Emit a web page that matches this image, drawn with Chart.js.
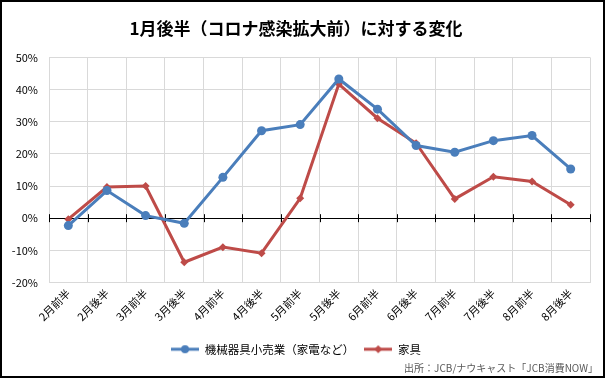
<!DOCTYPE html>
<html lang="ja">
<head>
<meta charset="utf-8">
<script src="https://cdn.jsdelivr.net/npm/chart.js@4"></script>
<style>
  html, body { margin: 0; padding: 0; background: #fff; }
  #wrap { width: 605px; height: 378px; box-sizing: border-box; border: 2px solid #000; }
</style>
</head>
<body>
<div id="wrap"><canvas id="chart"></canvas></div>
<script>
// Categories (half-months) and series values in %
const labels = ["2月前半", "2月後半", "3月前半", "3月後半", "4月前半", "4月後半", "5月前半",
  "5月後半", "6月前半", "6月後半", "7月前半", "7月後半", "8月前半", "8月後半"];
const appliances = [-2.3, 8.6, 0.8, -1.6, 12.7, 27.2, 29.1, 43.3, 33.9, 22.6, 20.5, 24.1, 25.7, 15.3];
const furniture = [-0.3, 9.7, 10.0, -13.7, -9.0, -10.9, 6.2, 41.7, 31.1, 23.3, 6.0, 12.9, 11.4, 4.2];
const yTicks = [-20, -10, 0, 10, 20, 30, 40, 50];
const source = "出所：JCB/ナウキャスト「JCB消費NOW」";

const BLUE = "#4A7EBB";
const RED = "#BE4B48";
const FONT = "'Noto Sans CJK JP', 'Noto Sans', sans-serif";

// legend icon: short line with the marker in the middle
function legendIcon(color, shape) {
  const c = document.createElement("canvas");
  c.width = 28; c.height = 10;
  const g = c.getContext("2d");
  g.strokeStyle = color; g.fillStyle = color; g.lineWidth = 3;
  g.beginPath(); g.moveTo(0, 5); g.lineTo(28, 5); g.stroke();
  g.beginPath();
  if (shape === "circle") g.arc(14, 5, 4, 0, Math.PI * 2);
  else { g.moveTo(14, 1); g.lineTo(18, 5); g.lineTo(14, 9); g.lineTo(10, 5); g.closePath(); }
  g.fill();
  return c;
}

// tick marks crossing the zero line at category boundaries
const zeroTicks = {
  id: "zeroTicks",
  beforeDatasetsDraw(chart) {
    const x = chart.scales.x, y = chart.scales.y;
    const y0 = y.getPixelForValue(0);
    const ctx = chart.ctx;
    ctx.save();
    ctx.strokeStyle = "#000";
    ctx.lineWidth = 1;
    for (let i = 0; i <= labels.length; i++) {
      const px = Math.round(x.getPixelForValue(i - 0.5)) + 0.5;
      ctx.beginPath(); ctx.moveTo(px, y0 - 4); ctx.lineTo(px, y0 + 4); ctx.stroke();
    }
    ctx.restore();
  }
};

// source note in the bottom-right corner
const sourceNote = {
  id: "sourceNote",
  afterDraw(chart) {
    const ctx = chart.ctx;
    ctx.save();
    ctx.font = "10px " + FONT;
    ctx.fillStyle = "#595959";
    ctx.textAlign = "right";
    ctx.textBaseline = "middle";
    ctx.fillText(source, chart.width - 5, chart.height - 8);
    ctx.restore();
  }
};

new Chart(document.getElementById("chart"), {
  type: "line",
  data: {
    labels: labels,
    datasets: [
      {
        label: "機械器具小売業（家電など）",
        data: appliances,
        borderColor: BLUE, backgroundColor: BLUE,
        borderWidth: 3, pointStyle: "circle", pointRadius: 4.5,
        pointBorderWidth: 0, tension: 0
      },
      {
        label: "家具",
        data: furniture,
        borderColor: RED, backgroundColor: RED,
        borderWidth: 3, pointStyle: "rectRot", pointRadius: 4,
        pointBorderWidth: 0, tension: 0
      }
    ]
  },
  options: {
    responsive: true,
    maintainAspectRatio: false,
    animation: false,
    layout: { padding: { top: 0, right: 13, left: 0, bottom: 11 } },
    plugins: {
      title: {
        display: true,
        text: "1月後半（コロナ感染拡大前）に対する変化",
        color: "#000",
        font: { family: FONT, size: 17, weight: "bold" },
        padding: { top: 16, bottom: 19 }
      },
      legend: {
        position: "bottom",
        labels: {
          usePointStyle: true,
          pointStyleWidth: 28,
          color: "#000",
          font: { family: FONT, size: 11.5 },
          padding: 10,
          generateLabels(chart) {
            return chart.data.datasets.map((ds, i) => ({
              text: ds.label,
              pointStyle: legendIcon(ds.borderColor, i === 0 ? "circle" : "diamond"),
              fillStyle: ds.borderColor, strokeStyle: ds.borderColor,
              lineWidth: 0, hidden: false, datasetIndex: i, fontColor: "#000"
            }));
          }
        }
      },
      tooltip: { enabled: false }
    },
    scales: {
      x: {
        offset: true,
        grid: { offset: true, color: "#D9D9D9", drawTicks: false },
        border: { display: false },
        ticks: {
          color: "#000", font: { family: FONT, size: 11 },
          minRotation: 45, maxRotation: 45, padding: 4
        },
        afterFit(scale) { scale.height = 51; }
      },
      y: {
        min: -20, max: 50,
        afterBuildTicks(scale) { scale.ticks = yTicks.map(v => ({ value: v })); },
        grid: {
          color: ctx => ctx.tick && ctx.tick.value === 0 ? "#000" : "#D9D9D9",
          drawTicks: false
        },
        border: { display: false },
        ticks: {
          color: "#000", font: { family: FONT, size: 11 }, padding: 11,
          callback: v => v + "%"
        },
        afterFit(scale) { scale.width = 47; }
      }
    }
  },
  plugins: [zeroTicks, sourceNote]
});
</script>
</body>
</html>
